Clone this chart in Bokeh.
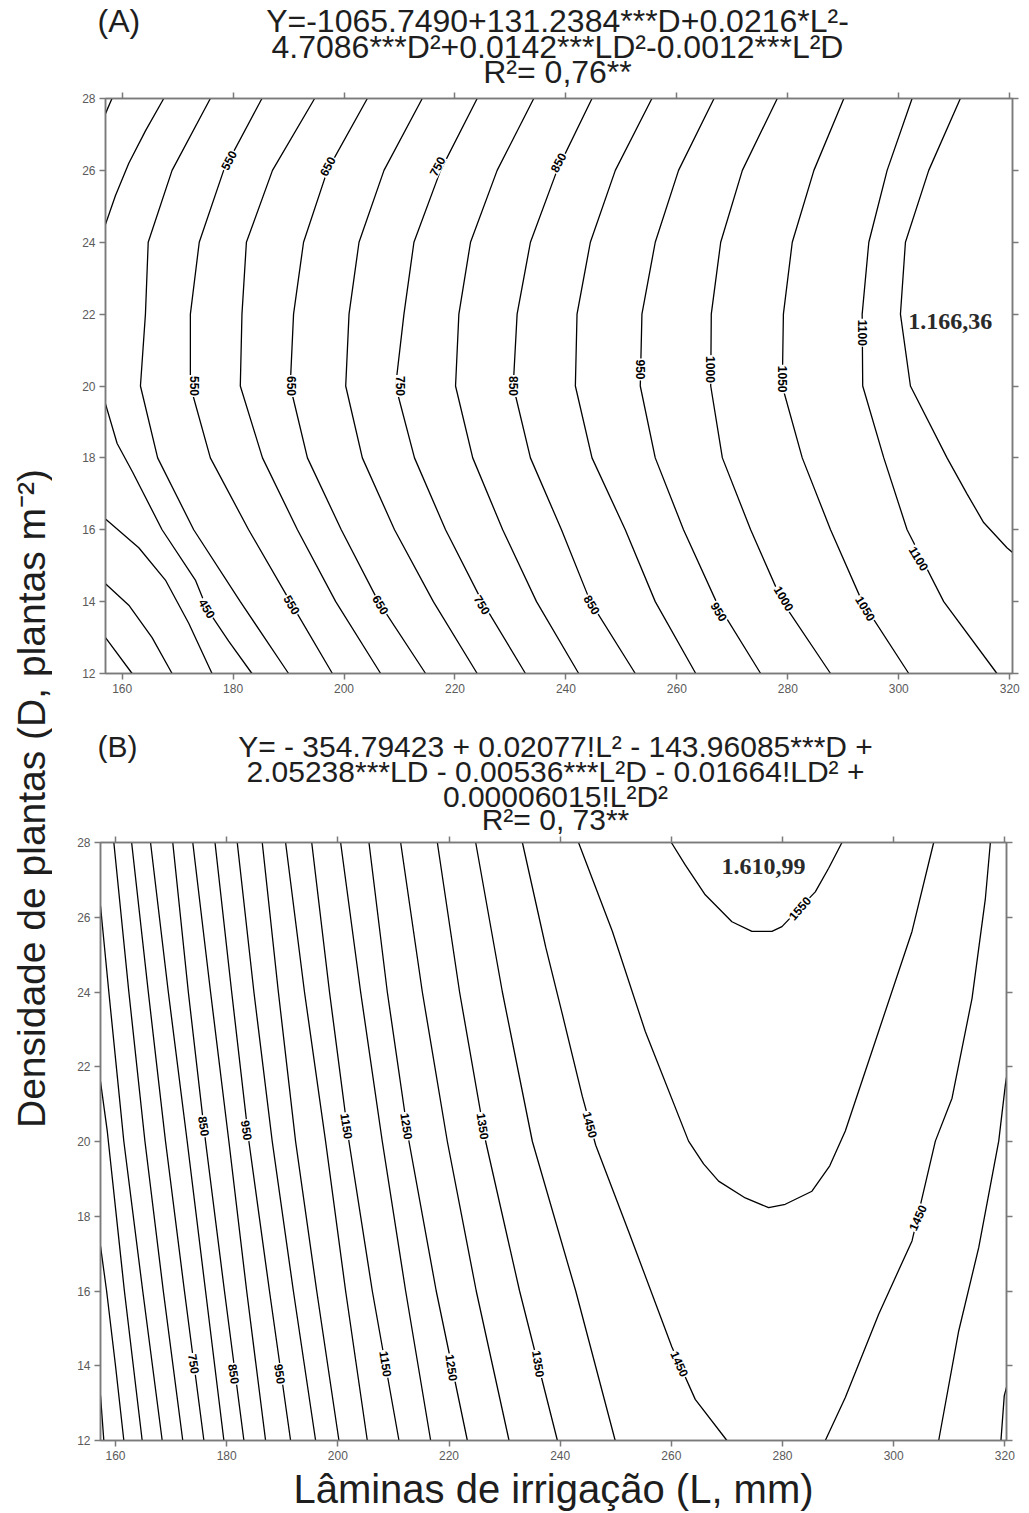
import math
from bokeh.plotting import figure
from bokeh.models import Range1d, LinearAxis, FixedTicker
from bokeh.layouts import row, column
from bokeh.embed import file_html
from bokeh.resources import INLINE
from bokeh.core.properties import value

# ---------------- data ----------------
L_TICKS = [160, 180, 200, 220, 240, 260, 280, 300, 320]
D_TICKS = [12, 14, 16, 18, 20, 22, 24, 26, 28]

# Panel (A): contour positions L (mm) at these plant densities D
A_D = [28, 26, 24, 22, 20, 18, 16, 14, 12]
A_500 = [175.9, 169.0, 164.7, 164.2, 163.3, 166.4, 172.9, 181.3, 190.0]
A_550 = [185.2, 178.3, 173.9, 172.3, 172.3, 175.9, 182.8, 190.3, 197.9]
A_600 = [194.7, 187.1, 182.4, 181.6, 181.3, 185.3, 191.6, 198.5, 206.6]
A_650 = [204.2, 197.0, 192.7, 190.9, 190.3, 193.4, 199.5, 206.2, 214.7]
A_700 = [214.1, 207.2, 202.7, 200.9, 200.3, 203.3, 209.1, 216.1, 224.0]
A_750 = [224.0, 217.4, 212.6, 210.8, 209.3, 212.7, 218.3, 224.9, 232.7]
A_800 = [234.2, 227.6, 222.8, 220.7, 220.1, 223.2, 228.6, 234.7, 242.3]
A_850 = [244.7, 238.4, 233.6, 231.2, 230.5, 233.6, 239.2, 244.4, 252.5]
A_900 = [255.5, 248.9, 244.4, 242.0, 241.7, 244.7, 250.7, 256.1, 263.4]
A_950 = [266.7, 260.3, 256.1, 253.7, 253.4, 256.1, 261.2, 267.1, 275.1]
A_1000 = [278.1, 271.8, 267.9, 266.2, 266.1, 268.2, 273.3, 279.0, 287.7]
A_1050 = [290.1, 284.7, 280.8, 279.2, 279.0, 282.6, 287.7, 293.4, 301.8]
A_1100 = [302.4, 297.9, 294.6, 293.4, 293.5, 297.3, 301.5, 308.1, 317.7]
# partial contours of panel (A)
A_1150_L = [311.1, 305.4, 301.2, 300.3, 302.1, 308.7, 312.3, 315.3, 319.5, 321.0]
A_1150_D = [28, 26, 24, 22, 20, 18, 17, 16.2, 15.5, 15.3]
A_450_top_L = [168.0, 167.5, 164.2, 161.2, 158.8, 157.0, 156.0]
A_450_top_D = [28.2, 28, 27.1, 26.2, 25.3, 24.5, 24.1]
A_450_bot_L = [156.0, 157.0, 159.1, 161.9, 167.2, 173.2, 175.3, 179.2, 183.4]
A_450_bot_D = [19.9, 19.5, 18.4, 17.6, 16.0, 14.6, 13.8, 12.9, 12.0]
A_400_top_L = [159.0, 156.5]
A_400_top_D = [28.3, 27.4]
A_400_bot_L = [156.5, 157.0, 163.0, 167.8, 172.0, 176.2]
A_400_bot_D = [16.4, 16.3, 15.5, 14.6, 13.4, 12.0]
A_350_L = [156.5, 157.0, 161.2, 165.4, 169.0]
A_350_D = [14.6, 14.5, 13.9, 13.0, 12.0]
A_300_L = [156.5, 157.0, 161.8]
A_300_D = [13.1, 13.0, 12.0]
A_MAX = "1.166,36"

# Panel (B): contour positions L (mm) at these plant densities D
B_D = [28, 24, 20, 16, 12]
B_700 = [159.7, 162.4, 165.3, 168.6, 172.1]
B_750 = [162.9, 165.9, 169.0, 172.4, 175.9]
B_800 = [166.3, 169.5, 172.9, 176.2, 179.5]
B_850 = [170.3, 173.1, 176.2, 179.6, 183.1]
B_900 = [173.9, 177.1, 180.4, 183.6, 187.0]
B_950 = [177.9, 180.9, 184.0, 187.7, 191.5]
B_1000 = [181.9, 184.9, 188.2, 192.0, 196.0]
B_1050 = [186.4, 189.3, 192.4, 196.2, 200.2]
B_1100 = [190.6, 194.0, 197.8, 201.4, 205.3]
B_1150 = [195.3, 198.5, 202.0, 206.2, 211.0]
B_1200 = [200.5, 204.1, 208.0, 212.2, 216.7]
B_1250 = [205.6, 208.9, 212.8, 217.7, 223.3]
B_1300 = [211.3, 215.2, 219.7, 224.9, 230.8]
B_1350 = [217.9, 221.9, 226.6, 232.7, 239.5]
B_1400 = [224.8, 229.6, 235.0, 242.8, 249.9]
# partial / curved contours of panel (B)
B_650_L = [156.8, 157.3, 158.8, 161.5, 164.9, 168.4]
B_650_D = [26.6, 26.3, 24, 20, 16, 12]
B_600_L = [156.8, 157.3, 158.5, 161.6, 164.8]
B_600_D = [21.9, 21.6, 20.3, 16, 12]
B_550_L = [156.8, 157.3, 158.4, 160.0, 161.5]
B_550_D = [17.5, 17.2, 16, 14, 12]
B_500_L = [156.8, 157.3, 157.9]
B_500_D = [13.5, 13.2, 12]
B_1450a_L = [233.2, 236.2, 237.4, 240.4, 244.0, 246.4, 252.3, 260.1, 264.3, 270.0]
B_1450a_D = [28, 26, 25.2, 23.4, 21.2, 19.9, 17.6, 14.5, 13.1, 12]
B_1450b_L = [317.4, 316.5, 314.1, 310.5, 307.5, 303.3, 297.3, 291.3, 287.7]
B_1450b_D = [28, 26.5, 23.83, 21.16, 20.01, 17.34, 15.38, 13.15, 12]
B_1500_L = [243.3, 249.4, 255.3, 263.1, 265.8, 268.5, 273.3, 277.5, 280.5, 285.3,
            288.5, 291.3, 297.3, 303.3, 307.2]
B_1500_D = [28, 25.62, 22.95, 20.01, 19.4, 18.94, 18.49, 18.23, 18.32, 18.67,
            19.35, 20.28, 22.95, 25.62, 28]
B_1550_L = [260.0, 262.5, 266.1, 270.9, 274.5, 278.1, 279.9, 285.9, 288.3, 290.7]
B_1550_D = [28, 27.4, 26.6, 25.88, 25.62, 25.62, 25.75, 26.68, 27.31, 28]
B_1400b_L = [320.6, 320.1, 318.9, 315.3, 311.7, 308.1]
B_1400b_D = [22.0, 21.52, 20.01, 17.16, 14.93, 12]
B_1350b_L = [320.8, 319.9, 319.3]
B_1350b_D = [13.7, 13.2, 12]
B_MAX = "1.610,99"

TITLE_A = ["Y=-1065.7490+131.2384***D+0.0216*L²-",
           "4.7086***D²+0.0142***LD²-0.0012***L²D",
           "R²= 0,76**"]
TITLE_B = ["Y= - 354.79423 + 0.02077!L² - 143.96085***D +",
           "2.05238***LD - 0.00536***L²D - 0.01664!LD² +",
           "0.00006015!L²D²",
           "R²= 0, 73**"]
Y_TITLE = "Densidade de plantas (D, plantas m⁻²)"
X_TITLE = "Lâminas de irrigação (L, mm)"

# ---------------- drawing ----------------
FONT = "Liberation Sans"
SERIF = "Liberation Serif"
FRAME = "#7a7a7a"
TICKLAB = "#5a5a5a"
INK = "#1e1e1e"
XOFF = 52  # page x where the column of panels starts


def blank_fig(w, h):
    f = figure(width=w, height=h, x_range=Range1d(0, w), y_range=Range1d(0, h),
               output_backend="svg", toolbar_location=None, x_axis_type=None,
               y_axis_type=None, min_border=0)
    f.xgrid.visible = False
    f.ygrid.visible = False
    f.outline_line_color = None
    f.frame_align = False
    return f


def style(p):
    p.frame_align = False
    p.xgrid.visible = False
    p.ygrid.visible = False
    p.outline_line_color = FRAME
    p.outline_line_width = 1.5
    above = LinearAxis()
    right = LinearAxis()
    p.add_layout(above, "above")
    p.add_layout(right, "right")
    for ax in p.xaxis:
        ax.ticker = FixedTicker(ticks=L_TICKS)
    for ax in p.yaxis:
        ax.ticker = FixedTicker(ticks=D_TICKS)
    for ax in list(p.xaxis) + list(p.yaxis):
        ax.major_tick_in = 0
        ax.major_tick_out = 6
        ax.minor_tick_line_color = None
        ax.axis_line_color = FRAME
        ax.axis_line_width = 1.5
        ax.major_tick_line_color = FRAME
        ax.major_tick_line_width = 1.5
        ax.major_label_text_font = FONT
        ax.major_label_text_font_size = "12px"
        ax.major_label_text_color = TICKLAB
        ax.major_label_standoff = 4
    above.major_label_overrides = {t: "" for t in L_TICKS}
    right.major_label_overrides = {t: "" for t in D_TICKS}
    above.major_label_standoff = 0
    right.major_label_standoff = 0


def contour(p, xs, ys):
    p.multi_line(xs=xs, ys=ys, line_color="black", line_width=1.3)


def clabels(p, xs, ys, texts, angles):
    p.text(x=xs, y=ys, text=texts, angle=angles,
           text_font=value(FONT), text_font_style="bold",
           text_font_size="12px", text_color="black",
           text_align="center", text_baseline="middle",
           background_fill_color="white", padding=1)


def titles(f, lines, ys, cx, tag, tag_x, size):
    f.text(x=[cx] * len(lines), y=ys, text=lines, text_font=value(FONT),
           text_font_size=size, text_align="center", text_baseline="middle",
           text_color=INK)
    f.text(x=[tag_x], y=[ys[0]], text=[tag], text_font=value(FONT),
           text_font_size=size, text_align="left", text_baseline="middle",
           text_color=INK)


# ---- title of panel A (page y 0..90)
tA = blank_fig(977, 90)
titles(tA, TITLE_A, [90 - 20, 90 - 46, 90 - 71], 557 - XOFF, "(A)", 97 - XOFF, "32px")

# ---- panel A (frame page x 105..1012, y 98..673)
pA = figure(width=977, height=630, x_range=Range1d(157.0, 320.5), y_range=Range1d(12, 28),
            output_backend="svg", toolbar_location=None,
            min_border_left=53, min_border_right=17, min_border_top=8, min_border_bottom=47)
style(pA)
full_A = [A_500, A_550, A_600, A_650, A_700, A_750, A_800, A_850, A_900, A_950,
          A_1000, A_1050, A_1100]
xsA = [list(v) for v in full_A] + [A_1150_L, A_450_top_L, A_450_bot_L, A_400_top_L,
                                   A_400_bot_L, A_350_L, A_300_L]
ysA = [list(A_D) for _ in full_A] + [A_1150_D, A_450_top_D, A_450_bot_D, A_400_top_D,
                                      A_400_bot_D, A_350_D, A_300_D]
contour(pA, xsA, ysA)

up, mid, down = 1.08, -math.pi / 2, -1.03
clabels(pA,
        [179.2, 197.0, 216.8, 238.6,
         173.0, 190.6, 210.2, 230.6, 253.5, 266.1, 279.1, 293.4,
         175.3, 190.6, 206.6, 224.9, 244.7, 267.6, 279.3, 294.0, 303.6],
        [26.28, 26.11, 26.11, 26.22,
         20.0, 20.0, 20.0, 20.0, 20.46, 20.46, 20.19, 21.48,
         13.81, 13.91, 13.91, 13.91, 13.91, 13.72, 14.09, 13.81, 15.2],
        ["550", "650", "750", "850",
         "550", "650", "750", "850", "950", "1000", "1050", "1100",
         "450", "550", "650", "750", "850", "950", "1000", "1050", "1100"],
        [up] * 4 + [mid] * 8 + [down] * 9)
pA.text(x=[309.3], y=[21.8], text=[A_MAX], text_font=value(SERIF), text_font_style="bold",
        text_font_size="24px", text_align="center", text_baseline="middle", text_color="#2a2a2a")

# ---- title of panel B (page y 720..836)
tB = blank_fig(977, 116)
titles(tB, TITLE_B, [836 - 746, 836 - 771, 836 - 796, 836 - 819], 555 - XOFF, "(B)",
       97 - XOFF, "30px")

# ---- panel B (frame page x 100..1006, y 841..1440)
pB = figure(width=977, height=677, x_range=Range1d(157.3, 320.3), y_range=Range1d(12, 28),
            output_backend="svg", toolbar_location=None,
            min_border_left=48, min_border_right=23, min_border_top=5, min_border_bottom=73)
style(pB)
xb = pB.below[0]
xb.axis_label = X_TITLE
xb.axis_label_text_font = FONT
xb.axis_label_text_font_size = "40px"
xb.axis_label_text_font_style = "normal"
xb.axis_label_text_color = INK
xb.axis_label_standoff = 4

full_B = [B_700, B_750, B_800, B_850, B_900, B_950, B_1000, B_1050, B_1100, B_1150,
          B_1200, B_1250, B_1300, B_1350, B_1400]
xsB = [list(v) for v in full_B] + [B_650_L, B_600_L, B_550_L, B_500_L, B_1450a_L,
                                   B_1450b_L, B_1500_L, B_1550_L, B_1400b_L, B_1350b_L]
ysB = [list(B_D) for _ in full_B] + [B_650_D, B_600_D, B_550_D, B_500_D, B_1450a_D,
                                      B_1450b_D, B_1500_D, B_1550_D, B_1400b_D, B_1350b_D]
contour(pB, xsB, ysB)

steep = -1.42
clabels(pB,
        [175.9, 183.6, 201.6, 212.4, 226.1,
         174.1, 181.3, 189.6, 208.6, 220.5, 236.1,
         245.4, 261.5, 304.3, 283.1],
        [20.41, 20.3, 20.41, 20.41, 20.41,
         14.05, 13.78, 13.78, 14.05, 13.95, 14.05,
         20.45, 14.05, 17.96, 26.24],
        ["850", "950", "1150", "1250", "1350",
         "750", "850", "950", "1150", "1250", "1350",
         "1450", "1450", "1450", "1550"],
        [steep] * 11 + [-1.31, -1.15, 1.15, 0.85])
pB.text(x=[276.6], y=[27.35], text=[B_MAX], text_font=value(SERIF), text_font_style="bold",
        text_font_size="24px", text_align="center", text_baseline="middle", text_color="#2a2a2a")

# ---- shared y title (page x 0..52)
pY = blank_fig(XOFF, 1513)
pY.text(x=[31], y=[1513 - 798], text=[Y_TITLE], angle=math.pi / 2, text_font=value(FONT),
        text_font_size="39px", text_align="center", text_baseline="middle", text_color=INK)

layout = row(pY, column(tA, pA, tB, pB))
open("out.html", "w").write(file_html(layout, INLINE))
